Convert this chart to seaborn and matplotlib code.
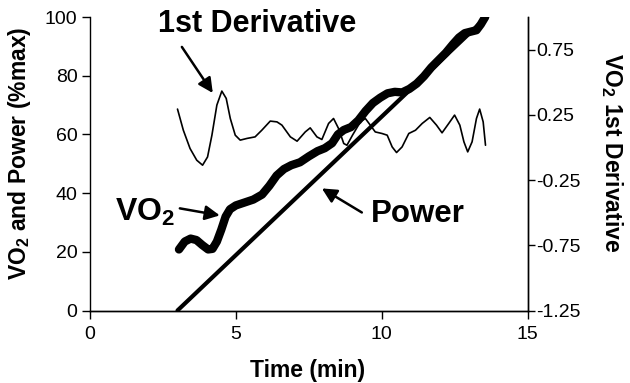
import matplotlib
matplotlib.use("Agg")
import matplotlib.pyplot as plt
import seaborn as sns

# ---- data ----
time_power = [3.0, 13.6]
power = [0.0, 100.0]

time_vo2 = [3.05, 3.25, 3.45, 3.65, 3.85, 4.05, 4.2, 4.35, 4.5, 4.65, 4.8,
            5.0, 5.3, 5.6, 5.9, 6.15, 6.4, 6.65, 6.9, 7.2, 7.5, 7.8, 8.05,
            8.3, 8.5, 8.7, 8.95, 9.2, 9.45, 9.7, 9.95, 10.2, 10.45, 10.7,
            10.95, 11.2, 11.45, 11.7, 11.95, 12.2, 12.45, 12.65, 12.85,
            13.05, 13.25, 13.4, 13.55]
vo2 = [20.8, 23.5, 24.5, 24.0, 22.3, 20.8, 21.0, 23.5, 27.5, 32.0, 34.5,
       35.8, 36.8, 37.8, 39.5, 42.5, 46.0, 48.2, 49.5, 50.5, 52.5, 54.3, 55.3,
       57.0, 60.0, 61.5, 62.5, 64.8, 68.0, 70.7, 72.5, 74.0, 74.5, 74.3,
       75.5, 77.3, 79.8, 82.8, 85.3, 87.8, 90.8, 93.0, 94.5,
       95.0, 95.5, 97.5, 100.0]

time_deriv = [3.00, 3.20, 3.43, 3.66, 3.86, 4.03, 4.18, 4.35, 4.52, 4.67,
              4.81, 4.98, 5.15, 5.38, 5.66, 5.89, 6.18, 6.41, 6.58, 6.87,
              7.10, 7.38, 7.55, 7.78, 7.95, 8.18, 8.35, 8.52, 8.70, 8.81,
              9.00, 9.27, 9.44, 9.61, 9.78, 10.01, 10.19, 10.36, 10.51,
              10.70, 10.93, 11.16, 11.39, 11.65, 11.88, 12.07, 12.30, 12.50,
              12.68, 12.82, 12.95, 13.10, 13.25, 13.36, 13.48, 13.56]
deriv = [0.294, 0.132, -0.008, -0.098, -0.136, -0.073, 0.094, 0.325, 0.432,
         0.376, 0.222, 0.094, 0.056, 0.069, 0.081, 0.132, 0.202, 0.196,
         0.171, 0.081, 0.048, 0.119, 0.150, 0.081, 0.061, 0.184, 0.222,
         0.146, 0.030, 0.017, 0.094, 0.196, 0.222, 0.171, 0.119, 0.107,
         0.094, 0.004, -0.039, 0.004, 0.107, 0.132, 0.184, 0.230, 0.171,
         0.112, 0.184, 0.248, 0.171, 0.043, -0.034, 0.043, 0.222, 0.294,
         0.196, 0.017]

x_ticks = [0, 5, 10, 15]
left_ticks = [0, 20, 40, 60, 80, 100]
right_ticks = [-1.25, -0.75, -0.25, 0.25, 0.75]

# ---- style ----
sns.set_style("ticks")
plt.rcParams["font.family"] = ["Liberation Sans", "DejaVu Sans"]
plt.rcParams["mathtext.fontset"] = "custom"
plt.rcParams["mathtext.rm"] = "Liberation Sans"
plt.rcParams["mathtext.bf"] = "Liberation Sans:bold"
plt.rcParams["axes.unicode_minus"] = False
plt.rcParams["text.color"] = "black"
plt.rcParams["axes.labelcolor"] = "black"
plt.rcParams["axes.edgecolor"] = "black"
plt.rcParams["xtick.color"] = "black"
plt.rcParams["ytick.color"] = "black"

fig = plt.figure(figsize=(6.3, 3.83), dpi=100)
ax = fig.add_axes([90 / 630, 1 - 310.5 / 383, 437.5 / 630, 293.5 / 383])
ax2 = ax.twinx()

sns.lineplot(x=time_power, y=power, ax=ax, color="black", linewidth=3.0,
             solid_capstyle="round")
sns.lineplot(x=time_vo2, y=vo2, ax=ax, color="black", linewidth=6.0,
             solid_capstyle="round", solid_joinstyle="round")
sns.lineplot(x=time_deriv, y=deriv, ax=ax2, color="black", linewidth=1.2,
             solid_joinstyle="round")

ax.set_xlim(0, 15)
ax.set_ylim(0, 100)
ax2.set_ylim(-1.25, 1.0)
ax.set_xticks(x_ticks)
ax.set_yticks(left_ticks)
ax2.set_yticks(right_ticks)

for a in (ax, ax2):
    a.spines["top"].set_visible(False)
    for s in a.spines.values():
        s.set_linewidth(1.0)
        s.set_color("black")
    a.tick_params(direction="out", length=6, width=1.0, labelsize=14,
                  colors="black", pad=3)
ax.tick_params(axis="x", pad=5)
ax2.tick_params(axis="y", length=5, pad=1)
ax2.spines["left"].set_visible(False)

ax.set_xlabel("Time (min)", fontsize=16.5, fontweight="bold", va="center")
ax.xaxis.set_label_coords(0.497, -0.205)
ax.set_ylabel(r"VO$_\mathbf{2}$ and Power (%max)", fontsize=16.5,
              fontweight="bold", va="center")
ax.yaxis.set_label_coords(-0.16, 0.536)
ax2.set_ylabel(r"VO$_\mathbf{2}$ 1st Derivative", fontsize=16.5,
               fontweight="bold", rotation=-90, va="center")
ax2.yaxis.set_label_coords(1.193, 0.539)

arrow = dict(arrowstyle="-|>", color="black", lw=1.8, mutation_scale=22,
             shrinkA=0, shrinkB=0)

ax.text(5.72, 97.6, "1st Derivative", fontsize=22, fontweight="bold",
        ha="center", va="center")
ax.annotate("", xy=(4.21, 74.1), xytext=(3.15, 89.8), arrowprops=arrow)

ax.text(1.88, 30.7, r"VO$_\mathbf{2}$", fontsize=23, fontweight="bold",
        ha="center", va="baseline")
ax.annotate("", xy=(4.45, 32.4), xytext=(3.08, 34.8), arrowprops=arrow)

ax.text(11.25, 30.0, "Power", fontsize=22.5, fontweight="bold",
        ha="center", va="baseline")
ax.annotate("", xy=(7.95, 41.6), xytext=(9.32, 33.4), arrowprops=arrow)

fig.savefig("out.png", dpi=100)
